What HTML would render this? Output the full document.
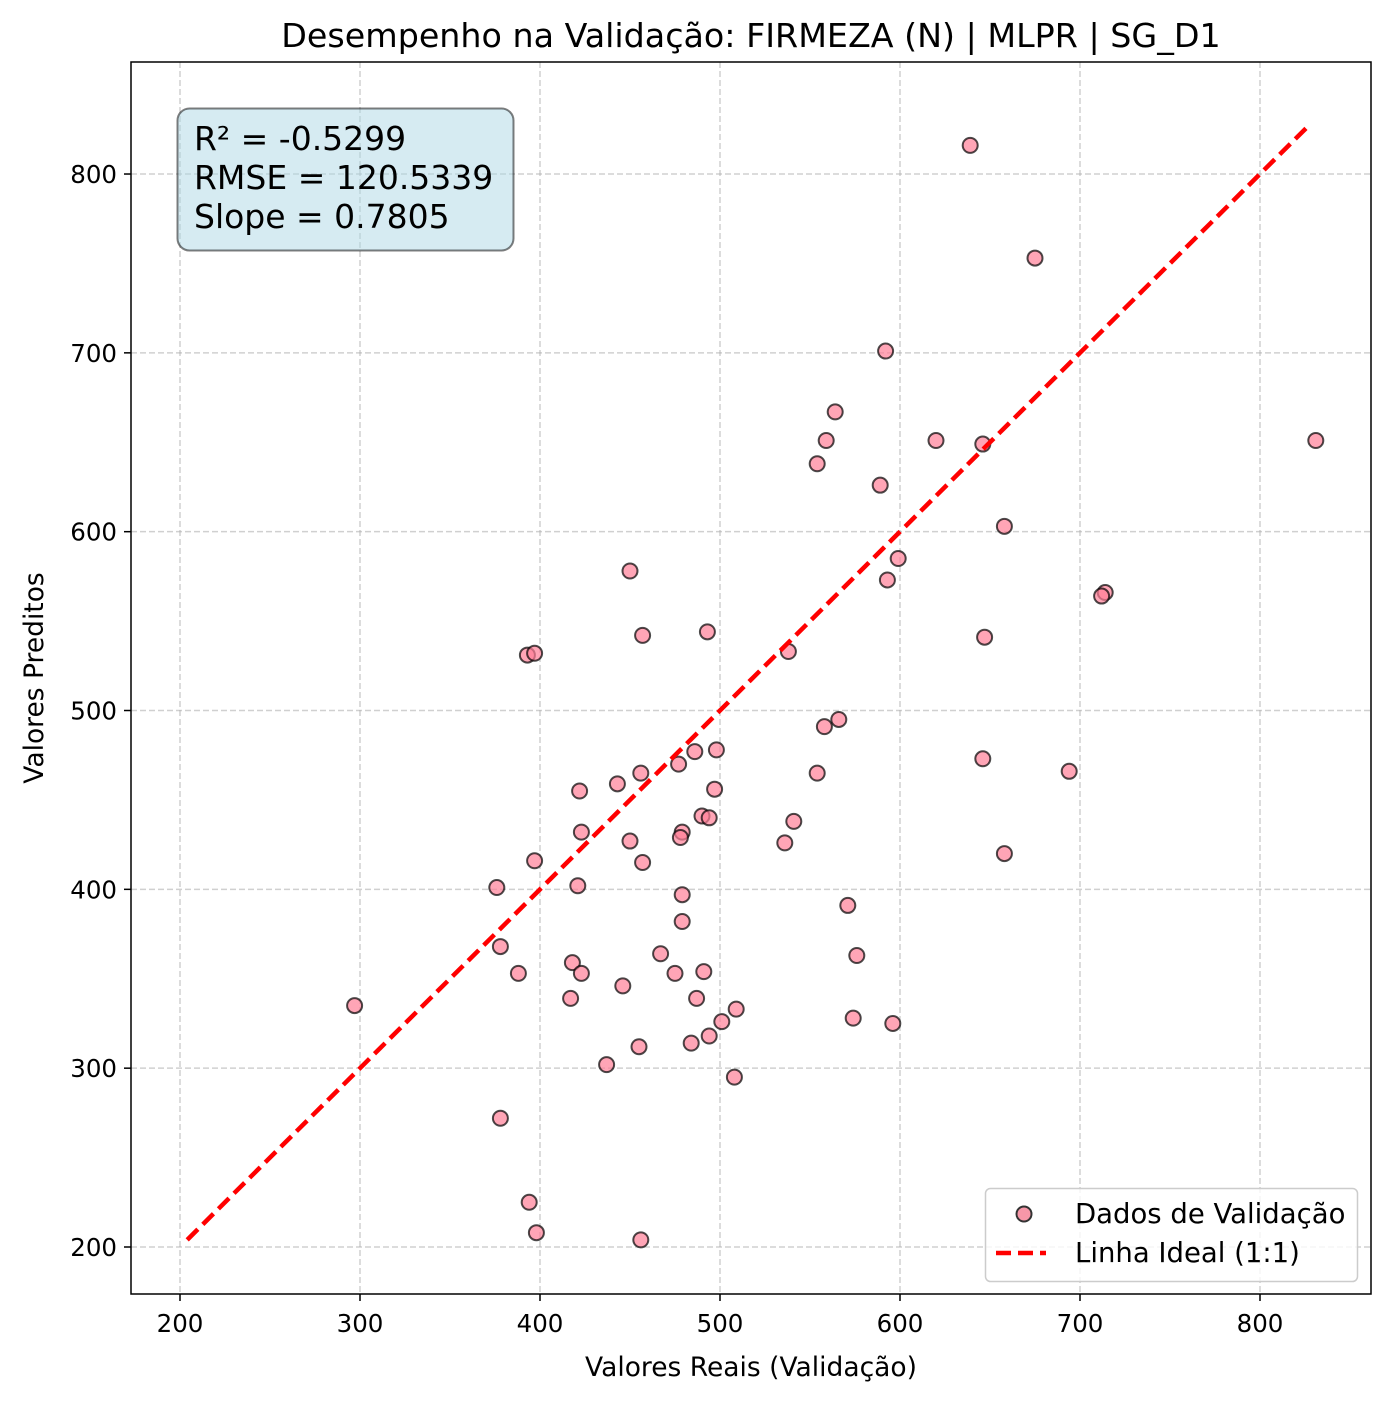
<!DOCTYPE html>
<html><head><meta charset="utf-8"><style>
html,body{margin:0;padding:0;background:#fff}
svg{display:block;font-family:"DejaVu Sans","Liberation Sans",sans-serif}
.tk{font-size:24.5px}
</style></head><body>
<svg id="chart" width="1391" height="1402" viewBox="0 0 1391 1402" xmlns="http://www.w3.org/2000/svg">
<rect width="1391" height="1402" fill="#fff"/>
<g id="grid"></g>
<g id="points"></g>
<g id="ideal"></g>
<rect x="131" y="62" width="1240" height="1232" fill="none" stroke="#000" stroke-width="1.5"/>
<g id="xticks"></g>
<g id="yticks"></g>
<text x="751" y="47" text-anchor="middle" style="font-size:33.3px">Desempenho na Validação: FIRMEZA (N) | MLPR | SG_D1</text>
<text x="751" y="1376" text-anchor="middle" style="font-size:26.5px">Valores Reais (Validação)</text>
<text x="43" y="678" text-anchor="middle" style="font-size:26.5px" transform="rotate(-90 43 678)">Valores Preditos</text>
<g>
<rect x="177.5" y="108.5" width="336" height="142" rx="12" fill="#add8e6" fill-opacity="0.5" stroke="#000" stroke-opacity="0.5" stroke-width="2"/>
<text x="194" y="150" style="font-size:33px">R² = -0.5299</text>
<text x="194" y="189" style="font-size:33px">RMSE = 120.5339</text>
<text x="194" y="228" style="font-size:33px">Slope = 0.7805</text>
</g>
<g>
<rect x="985.5" y="1188.5" width="372" height="93" rx="5" fill="#fff" fill-opacity="0.8" stroke="#ccc" stroke-width="1.5"/>
<circle cx="1024" cy="1214" r="7.5" fill="#f797a8" stroke="#333" stroke-width="2"/>
<text x="1075" y="1223" style="font-size:27.5px">Dados de Validação</text>
<line x1="996" y1="1253" x2="1046" y2="1253" stroke="#f00" stroke-width="4.5" stroke-dasharray="15,7"/>
<text x="1075" y="1262" style="font-size:27.5px">Linha Ideal (1:1)</text>
</g>
</svg>
<script>
const realVals=[639,675,592,564,559,620,646,554,589,831,658,599,593,450,714,712,457,493,647,393,397,538,566,558,646,694,554,486,498,477,456,443,422,497,490,494,541,423,479,478,450,536,658,397,457,376,421,479,571,479,378,467,576,418,388,423,475,491,446,297,417,487,509,501,574,596,455,484,494,437,508,378,394,398,456];
const predVals=[816,753,701,667,651,651,649,638,626,651,603,585,573,578,566,564,542,544,541,531,532,533,495,491,473,466,465,477,478,470,465,459,455,456,441,440,438,432,432,429,427,426,420,416,415,401,402,397,391,382,368,364,363,359,353,353,353,354,346,335,339,339,333,326,328,325,312,314,318,302,295,272,225,208,204];
const xTickVals=[200,300,400,500,600,700,800];
const yTickVals=[200,300,400,500,600,700,800];
const idealRange=[204,828];
const NS="http://www.w3.org/2000/svg";
function xs(v){return 180+(v-200)*1.8;}
function ys(v){return 1247-(v-200)*1.7883;}
function mk(tag,attrs,parent){const e=document.createElementNS(NS,tag);for(const k in attrs)e.setAttribute(k,attrs[k]);parent.appendChild(e);return e;}
const grid=document.getElementById('grid'),xt=document.getElementById('xticks'),yt=document.getElementById('yticks');
xTickVals.forEach(v=>{const x=xs(v);
 const g=mk('line',{x1:x,y1:62,x2:x,y2:1294,stroke:'#b0b0b0','stroke-opacity':0.6,'stroke-width':1.5,'stroke-dasharray':'6,3'},grid);
 
 
 const t=mk('line',{x1:x,y1:1294,x2:x,y2:1301,stroke:'#000','stroke-width':1.5},xt);
 
 
 const l=mk('text',{x:x,y:1332,'text-anchor':'middle','class':'tk'},xt);l.textContent=v;
 
 
});
yTickVals.forEach(v=>{const y=ys(v);
 const g=mk('line',{x1:131,y1:y,x2:1371,y2:y,stroke:'#b0b0b0','stroke-opacity':0.6,'stroke-width':1.5,'stroke-dasharray':'6,3'},grid);
 
 
 const t=mk('line',{x1:124,y1:y,x2:131,y2:y,stroke:'#000','stroke-width':1.5},yt);
 
 
 const l=mk('text',{x:117,y:y+9,'text-anchor':'end','class':'tk'},yt);l.textContent=v;
 
 
});
const pts=document.getElementById('points');
realVals.forEach((v,i)=>{
 const c=mk('circle',{cx:xs(v),cy:ys(predVals[i]),r:7.5,fill:'#ff7f97','fill-opacity':0.7,stroke:'#000','stroke-opacity':0.7,'stroke-width':2},pts);
 
 
});
const ln=mk('line',{x1:xs(idealRange[0]),y1:ys(idealRange[0]),x2:xs(idealRange[1]),y2:ys(idealRange[1]),stroke:'#f00','stroke-width':4.5,'stroke-dasharray':'15,7'},document.getElementById('ideal'));


</script>
</body></html>
